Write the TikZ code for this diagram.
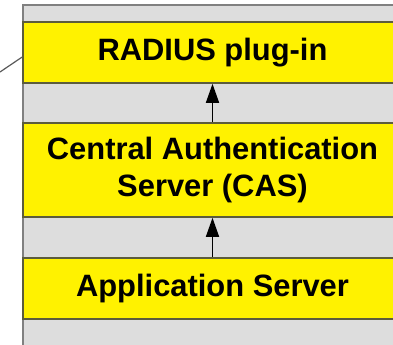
\documentclass[tikz,border=0pt]{standalone}
\usepackage{fontspec}
\setmainfont{Liberation Sans}
\usetikzlibrary{calc,arrows.meta}
\definecolor{boxedge}{RGB}{92,92,60}
\definecolor{paneledge}{RGB}{128,128,128}
\definecolor{panelfill}{RGB}{221,221,221}
\tikzset{%
  ybox/.style={draw=boxedge,line width=1.6bp,fill=yellow,minimum width=379bp,align=center,inner sep=0,font=\bfseries\fontsize{31}{37}\selectfont},
  uparrow/.style={draw=black,line width=1.6bp,-{Triangle[length=19bp,width=13bp]}},
  plink/.style={draw=paneledge!70!black,line width=1.2bp}
}
\begin{document}
\begin{tikzpicture}[x=1bp,y=-1bp]
    \clip (0,0) rectangle (393,345);
    \fill[white] (0,0) rectangle (393,345);
    \draw[paneledge,fill=panelfill,line width=1.6bp] (23,360) -- (23,5) -- (410,5) -- (410,360) -- cycle;
    \path
      (212.5,52.5) node[ybox,minimum height=61bp] (radius) {RADIUS plug-in}
      (212.5,170) node[ybox,minimum height=94bp] (cas) {Central Authentication\\Server (CAS)}
      (212.5,288.5) node[ybox,minimum height=61bp] (app) {Application Server};
    \coordinate (lnk) at (0,72);
    \draw[uparrow] (cas) -- (radius);
    \draw[uparrow] (app) -- (cas);
    \draw[plink] (lnk) -- ($(radius.west)+(0,4.5)$);
  \end{tikzpicture}
\end{document}
